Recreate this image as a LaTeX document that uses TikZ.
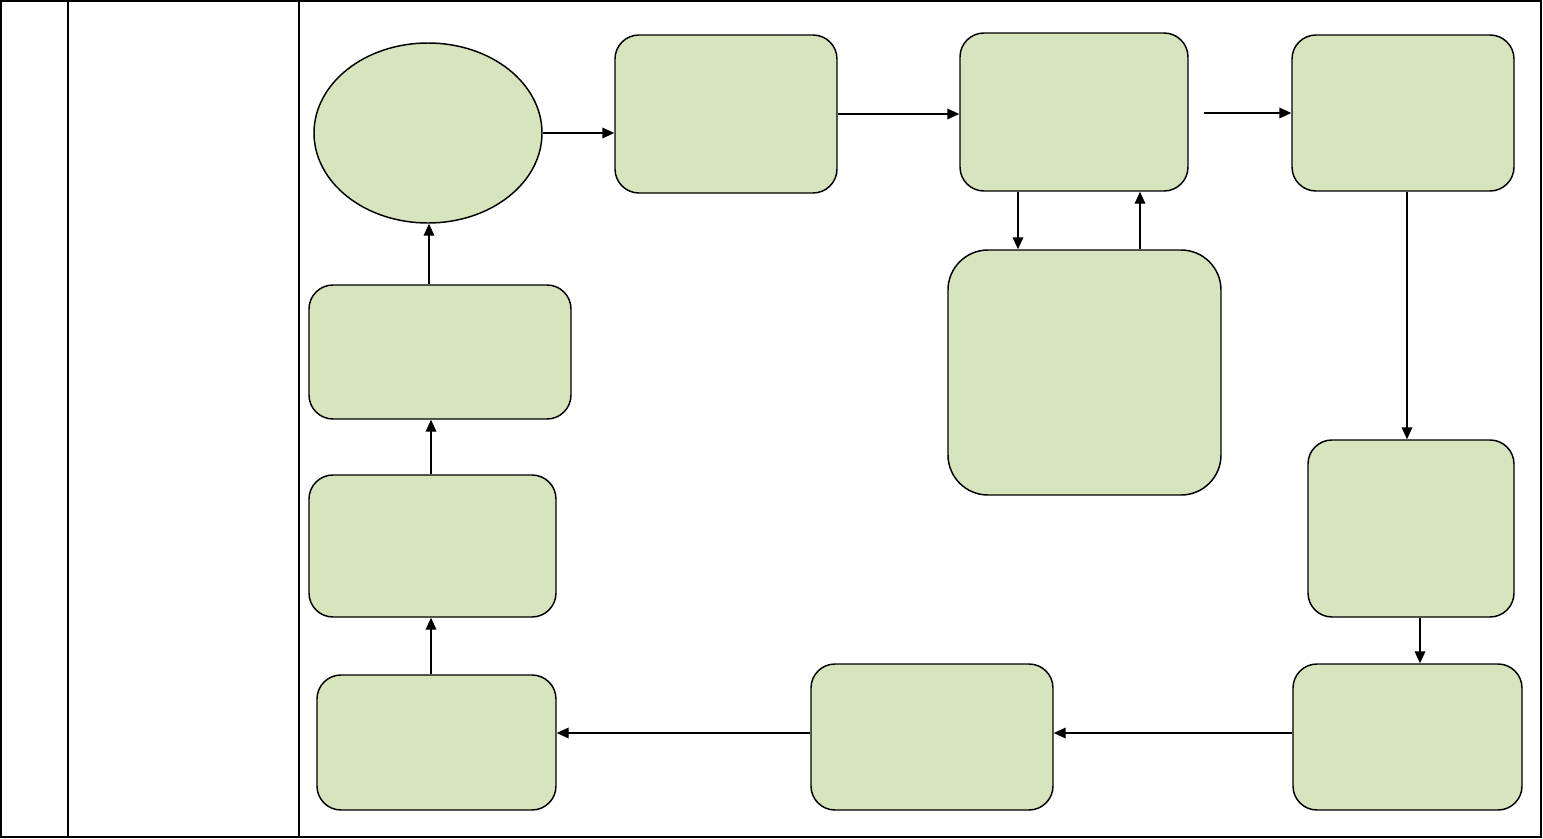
\documentclass[tikz,border=0pt]{standalone}
\usetikzlibrary{arrows.meta,shapes.geometric}

\definecolor{boxgreen}{RGB}{215,228,189}
\tikzset{every picture/.style={line width=0.75pt}}
\tikzset{
  box/.style={draw, fill=boxgreen, rounded corners=18pt, line width=1.1pt, inner sep=0pt},
  oval/.style={draw, fill=boxgreen, ellipse, line width=1.1pt, inner sep=0pt},
  arr/.style={line width=1.1pt, -{Triangle[length=9pt,width=8pt]}},
  grid/.style={line width=1.5pt}
}

\begin{document}
\begin{tikzpicture}[x=0.75pt,y=0.75pt,yscale=-1,xscale=1]
	\useasboundingbox (0,0) rectangle (1543,839);

	%Table frame
	\draw [grid] (1,1) rectangle (1541,837) ;
	\draw [grid] (67.5,1) -- (67.5,837) ;
	\draw [grid] (298.5,1) -- (298.5,837) ;

	%Shape: Ellipse
	\node [oval, minimum width=171pt, minimum height=135pt] (start) at (428,133) {};
	%Rounded boxes, top row
	\node [box, minimum width=166.5pt, minimum height=118.5pt] (stepa) at (726,114) {};
	\node [box, minimum width=171pt, minimum height=118.5pt] (stepb) at (1074,112) {};
	\node [box, minimum width=166.5pt, minimum height=117pt] (stepc) at (1403,113) {};
	%Big box under stepb
	\node [box, rounded corners=30pt, minimum width=204.75pt, minimum height=183.75pt] (stepd) at (1084.5,372.5) {};
	%Right column
	\node [box, minimum width=154.5pt, minimum height=132.75pt] (stepe) at (1411,528.5) {};
	\node [box, minimum width=171.75pt, minimum height=109.5pt] (stepf) at (1407.5,737) {};
	%Bottom row
	\node [box, minimum width=181.5pt, minimum height=109.5pt] (stepg) at (932,737) {};
	\node [box, minimum width=179.25pt, minimum height=101.25pt] (steph) at (436.5,742.5) {};
	%Left column
	\node [box, minimum width=185.25pt, minimum height=106.5pt] (stepi) at (432.5,546) {};
	\node [box, minimum width=196.5pt, minimum height=100.5pt] (stepj) at (440,352) {};

	%Helper coordinates
	\coordinate (cfree) at (1204,113) ;
	\coordinate (xbd) at (1018,0) ;
	\coordinate (xdb) at (1140,0) ;
	\coordinate (xce) at (1407,0) ;
	\coordinate (xef) at (1420,0) ;
	\coordinate (yfg) at (0,733) ;
	\coordinate (xleft) at (431,0) ;
	\coordinate (xtop) at (429,0) ;

	%Straight Lines
	\draw [arr] (start.east) -- (start.east -| stepa.west) ;
	\draw [arr] (stepa.east) -- (stepa.east -| stepb.west) ;
	\draw [arr] (cfree) -- (cfree -| stepc.west) ;
	\draw [arr] (xbd |- stepb.south) -- (xbd |- stepd.north) ;
	\draw [arr] (xdb |- stepd.north) -- (xdb |- stepb.south) ;
	\draw [arr] (xce |- stepc.south) -- (xce |- stepe.north) ;
	\draw [arr] (xef |- stepe.south) -- (xef |- stepf.north) ;
	\draw [arr] (stepf.west |- yfg) -- (stepg.east |- yfg) ;
	\draw [arr] (stepg.west |- yfg) -- (steph.east |- yfg) ;
	\draw [arr] (xleft |- steph.north) -- (xleft |- stepi.south) ;
	\draw [arr] (xleft |- stepi.north) -- (xleft |- stepj.south) ;
	\draw [arr] (xtop |- stepj.north) -- (xtop |- start.south) ;
\end{tikzpicture}
\end{document}
